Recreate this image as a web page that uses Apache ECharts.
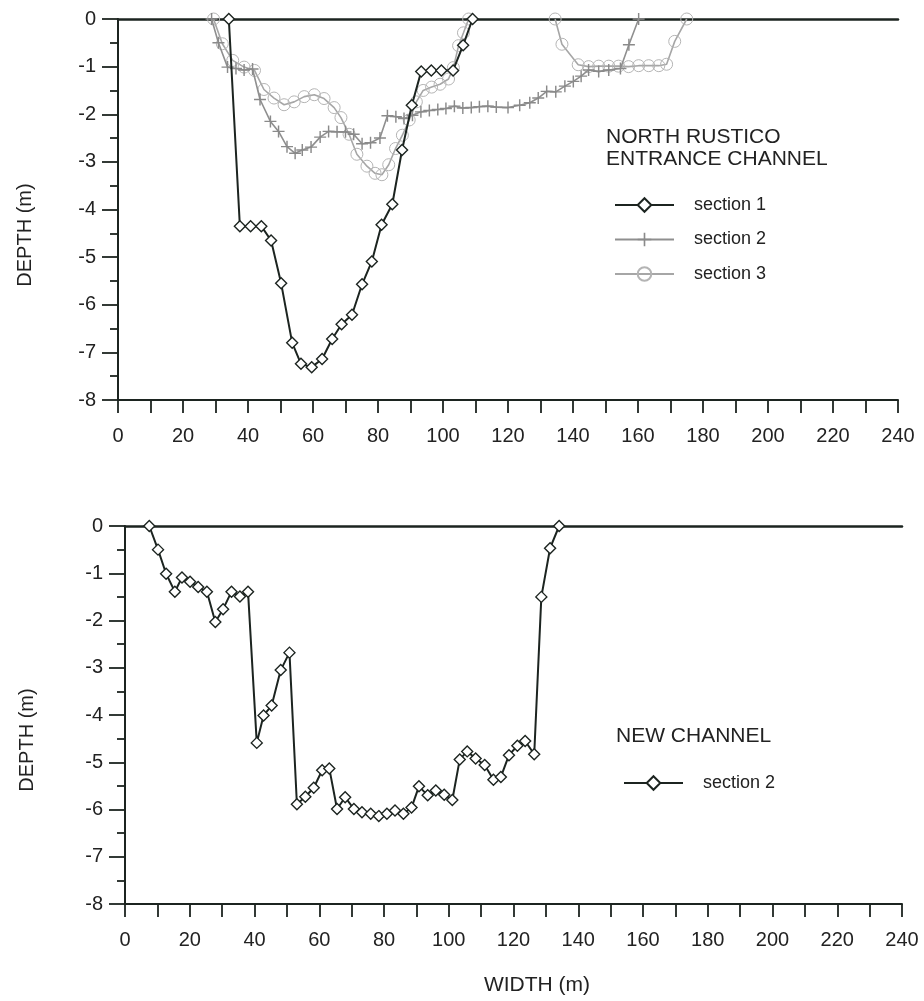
<!DOCTYPE html>
<html>
<head>
<meta charset="utf-8">
<script src="https://cdn.jsdelivr.net/npm/echarts@6/dist/echarts.min.js"></script>
<style>
html,body{margin:0;padding:0;background:#fff;}
#c1{position:absolute;left:0;top:0;width:924px;height:480px;}
#c2{position:absolute;left:0;top:480px;width:924px;height:521px;}
</style>
</head>
<body>
<div id="c1"></div>
<div id="c2"></div>
<script>
// ---- Data: North Rustico entrance channel (top panel) ----
const s1X = [34.1, 37.5, 40.8, 44.1, 47.1, 50.2, 53.6, 56.3, 59.6, 62.8, 65.9, 68.8, 72.0, 75.1, 78.1, 81.1, 84.4, 87.4, 90.4, 93.3, 96.4, 99.5, 103.1, 106.2, 109.1];
const s1Y = [0, -4.35, -4.35, -4.35, -4.65, -5.55, -6.8, -7.24, -7.31, -7.14, -6.72, -6.41, -6.21, -5.57, -5.09, -4.32, -3.89, -2.75, -1.81, -1.10, -1.08, -1.08, -1.08, -0.55, 0];

const s2X = [28.8, 30.9, 33.7, 36.3, 38.8, 41.4, 43.7, 46.9, 49.4, 52.0, 54.5, 56.7, 59.4, 62.2, 64.8, 67.4, 70.0, 72.5, 75.1, 77.7, 80.6, 82.9, 85.5, 88.0, 90.6, 93.2, 95.8, 98.4, 100.9, 103.5, 106.1, 108.7, 111.2, 113.8, 116.4, 120.0, 123.6, 126.7, 129.3, 131.9, 134.7, 137.5, 140.1, 142.5, 144.8, 147.9, 151.0, 154.6, 157.2, 160.2];
const s2Y = [0, -0.50, -1.01, -1.04, -1.07, -1.05, -1.69, -2.15, -2.36, -2.68, -2.82, -2.75, -2.69, -2.48, -2.36, -2.37, -2.37, -2.42, -2.62, -2.60, -2.50, -2.03, -2.05, -2.09, -2.02, -1.95, -1.92, -1.90, -1.88, -1.83, -1.87, -1.86, -1.84, -1.83, -1.85, -1.86, -1.81, -1.76, -1.66, -1.52, -1.53, -1.41, -1.31, -1.20, -1.07, -1.10, -1.07, -1.04, -0.54, 0];

const s3aX = [29.4, 32.1, 35.3, 38.8, 42.0, 44.9, 48.0, 51.1, 54.2, 57.3, 60.4, 63.4, 66.5, 68.6, 71.1, 73.5, 76.6, 79.1, 81.2, 83.3, 85.4, 87.5, 89.6, 91.8, 93.9, 96.5, 99.1, 101.7, 103.2, 104.8, 106.3, 107.9];
const s3aY = [0, -0.52, -0.87, -1.01, -1.08, -1.48, -1.66, -1.80, -1.74, -1.63, -1.59, -1.67, -1.86, -2.07, -2.42, -2.84, -3.09, -3.24, -3.27, -3.06, -2.72, -2.44, -2.12, -1.74, -1.50, -1.43, -1.37, -1.26, -1.02, -0.56, -0.29, 0];
const s3bX = [134.5, 136.6, 141.6, 144.8, 147.9, 151.0, 154.0, 157.1, 160.2, 163.3, 166.4, 168.8, 171.3, 175.0];
const s3bY = [0, -0.53, -0.96, -1.00, -0.99, -0.99, -0.99, -1.00, -0.98, -0.98, -0.98, -0.95, -0.47, 0];

// ---- Data: New channel (bottom panel) ----
const ncX = [7.5, 10.2, 12.7, 15.4, 17.6, 20.1, 22.6, 25.3, 27.9, 30.3, 32.9, 35.5, 38.0, 40.7, 42.8, 45.3, 48.1, 50.8, 53.1, 55.7, 58.3, 60.9, 63.1, 65.5, 68.0, 70.7, 73.2, 75.9, 78.4, 80.9, 83.4, 86.0, 88.5, 90.8, 93.5, 96.0, 98.6, 101.1, 103.4, 105.7, 108.3, 111.1, 113.8, 116.1, 118.6, 121.2, 123.6, 126.4, 128.6, 131.3, 134.1];
const ncY = [0, -0.50, -1.01, -1.39, -1.09, -1.18, -1.29, -1.39, -2.03, -1.76, -1.39, -1.49, -1.39, -4.59, -4.01, -3.80, -3.05, -2.68, -5.89, -5.73, -5.54, -5.17, -5.13, -5.99, -5.74, -5.99, -6.06, -6.09, -6.14, -6.09, -6.02, -6.09, -5.96, -5.51, -5.70, -5.60, -5.69, -5.80, -4.94, -4.77, -4.92, -5.06, -5.37, -5.31, -4.85, -4.65, -4.55, -4.83, -1.50, -0.47, 0];

// ---- Axis settings ----
const xMin = 0, xMax = 240, xStep = 10, xLabelStep = 20;
const yMin = -8, yMax = 0, yStep = 1;
const topTitleLines = ['NORTH RUSTICO', 'ENTRANCE CHANNEL'];
const bottomTitle = 'NEW CHANNEL';
const yName = 'DEPTH (m)';
const xName = 'WIDTH (m)';

const FONT = '"Liberation Sans", Arial, Helvetica, sans-serif';
const INK = '#1c2420';
const TXT = '#222';

function zip(xs, ys) { return xs.map((x, i) => [x, ys[i]]); }

function axes(grid) {
  return {
    grid: grid,
    xAxis: [{
      type: 'value', min: xMin, max: xMax, interval: xStep, position: 'bottom',
      axisLine: { show: true, onZero: false, lineStyle: { color: INK, width: 2 } },
      axisTick: { show: true, length: 13, lineStyle: { color: INK, width: 1.8 } },
      axisLabel: { formatter: v => (v % xLabelStep === 0 ? String(v) : ''), margin: 26, fontSize: 20, color: TXT, fontFamily: FONT },
      splitLine: { show: false }
    }, {
      type: 'value', min: xMin, max: xMax, position: 'top',
      axisLine: { show: true, onZero: false, lineStyle: { color: INK, width: 2.5 } },
      axisTick: { show: false }, axisLabel: { show: false }, splitLine: { show: false }
    }],
    yAxis: [{
      type: 'value', min: yMin, max: yMax, interval: yStep,
      axisLine: { show: true, onZero: false, lineStyle: { color: INK, width: 2 } },
      axisTick: { show: true, length: 16, lineStyle: { color: INK, width: 1.8 } },
      minorTick: { show: true, splitNumber: 2, length: 8, lineStyle: { color: INK, width: 1.8 } },
      axisLabel: { margin: 22, fontSize: 20, color: TXT, fontFamily: FONT },
      splitLine: { show: false }, minorSplitLine: { show: false }
    }]
  };
}

const plusPath = 'path://M4.4,0H5.6V4.4H10V5.6H5.6V10H4.4V5.6H0V4.4H4.4Z';

const sec1Style = {
  type: 'line', symbol: 'diamond', symbolSize: 11, showSymbol: true,
  itemStyle: { color: '#ffffff', borderColor: INK, borderWidth: 1.4 },
  lineStyle: { color: INK, width: 2 }, z: 5
};
const sec2Style = {
  type: 'line', symbol: plusPath, symbolSize: 12,
  itemStyle: { color: '#8a8a8a' },
  lineStyle: { color: '#8f8f8f', width: 1.6 }, z: 4
};
const sec3Style = {
  type: 'line', symbol: 'circle', symbolSize: 12,
  itemStyle: { color: 'rgba(255,255,255,0)', borderColor: '#b4b4b4', borderWidth: 1 },
  lineStyle: { color: '#a6a6a6', width: 1.6 }, z: 3
};

// ---- Top chart ----
const c1 = echarts.init(document.getElementById('c1'), null, { renderer: 'canvas' });
const o1 = axes({ left: 118, top: 19, width: 780, height: 381, containLabel: false });
o1.animation = false;
o1.textStyle = { fontFamily: FONT };
o1.title = {
  text: topTitleLines.join('\n'), left: 606, top: 126, padding: 0,
  textStyle: { fontSize: 21, lineHeight: 22, fontWeight: 'normal', color: TXT, fontFamily: FONT }
};
o1.legend = {
  orient: 'vertical', left: 609, top: 191, itemWidth: 59, itemHeight: 17, itemGap: 16.5,
  data: ['section 1', 'section 2', 'section 3'],
  textStyle: { fontSize: 18, color: TXT, fontFamily: FONT, padding: [0, 0, 0, 15] }
};
o1.graphic = [{
  type: 'text', x: 25, y: 235, rotation: Math.PI / 2,
  style: { text: yName, font: '20px ' + FONT, fill: TXT, align: 'center', verticalAlign: 'middle' }
}];
o1.series = [
  Object.assign({ name: 'section 3', data: zip(s3aX, s3aY) }, sec3Style),
  Object.assign({ name: 'section 3', data: zip(s3bX, s3bY) }, sec3Style),
  Object.assign({ name: 'section 2', data: zip(s2X, s2Y) }, sec2Style),
  Object.assign({ name: 'section 1', data: zip(s1X, s1Y) }, sec1Style)
];
c1.setOption(o1);

// ---- Bottom chart ----
const c2 = echarts.init(document.getElementById('c2'), null, { renderer: 'canvas' });
const o2 = axes({ left: 125, top: 46, width: 777, height: 378, containLabel: false });
o2.animation = false;
o2.textStyle = { fontFamily: FONT };
o2.title = {
  text: bottomTitle, left: 616, top: 246, padding: 0,
  textStyle: { fontSize: 21, fontWeight: 'normal', color: TXT, fontFamily: FONT }
};
o2.legend = {
  orient: 'vertical', left: 618, top: 289, itemWidth: 59, itemHeight: 17,
  data: ['section 2'],
  textStyle: { fontSize: 18, color: TXT, fontFamily: FONT, padding: [0, 0, 0, 15] }
};
o2.graphic = [{
  type: 'text', x: 27, y: 260, rotation: Math.PI / 2,
  style: { text: yName, font: '20px ' + FONT, fill: TXT, align: 'center', verticalAlign: 'middle' }
}, {
  type: 'text', x: 537, y: 505,
  style: { text: xName, font: '21px ' + FONT, fill: TXT, align: 'center', verticalAlign: 'middle' }
}];
o2.series = [
  Object.assign({ name: 'section 2', data: zip(ncX, ncY) }, sec1Style)
];
c2.setOption(o2);
</script>
</body>
</html>
